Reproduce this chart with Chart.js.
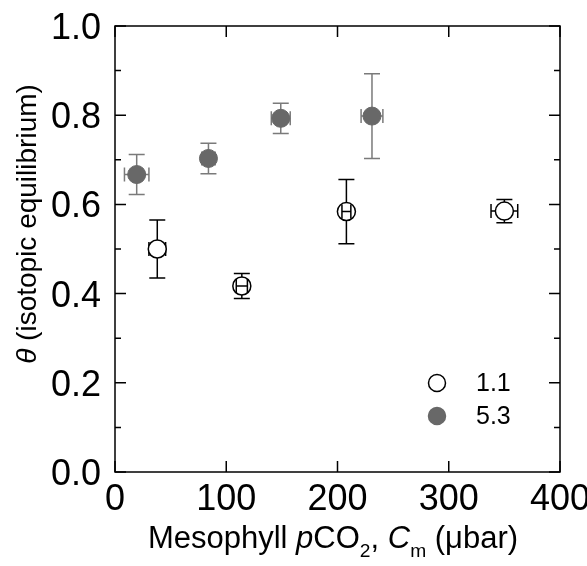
<!DOCTYPE html>
<html><head><meta charset="utf-8">
<script src="https://cdn.jsdelivr.net/npm/chart.js@4.4.0/dist/chart.umd.min.js"></script>
<style>html,body{margin:0;padding:0;background:#fff;}canvas{display:block;}</style>
</head><body>
<canvas id="c" width="587" height="566"></canvas>
<script>
// ---- data ----
const seriesNames = ['1.1', '5.3'];
const openX    = [38, 114, 208, 350];
const openY    = [0.500, 0.417, 0.584, 0.585];
const openXErr = [7.5, 5, 4, 12];
const openYErr = [0.065, 0.028, 0.072, 0.026];
const fillX    = [19.5, 84, 149, 231];
const fillY    = [0.667, 0.703, 0.793, 0.798];
const fillXErr = [11, 6, 8.5, 9.8];
const fillYErr = [0.045, 0.034, 0.034, 0.095];
const xTicks = [0, 100, 200, 300, 400];
const xTickLabels = ['0', '100', '200', '300', '400'];
const yTicks = [0.0, 0.2, 0.4, 0.6, 0.8, 1.0];
const yTickLabels = ['0.0', '0.2', '0.4', '0.6', '0.8', '1.0'];
const yMinorTicks = [0.1, 0.3, 0.5, 0.7, 0.9];

const FONT = '"Liberation Sans", Arial, Helvetica, sans-serif';
const GREY = '#686868';
const GREY_ERR = '#7a7a7a';
const R = 9;

function pts(xs, ys) { return xs.map((x, i) => ({x: x, y: ys[i]})); }

function drawErr(ctx, xs, ys, xe, ye, sx, sy, color, doY, doX, onlyInner) {
  ctx.save();
  ctx.strokeStyle = color; ctx.lineWidth = 1.5;
  for (let i = 0; i < xs.length; i++) {
    const px = sx.getPixelForValue(xs[i]), py = sy.getPixelForValue(ys[i]);
    const l = sx.getPixelForValue(xs[i] - xe[i]), r = sx.getPixelForValue(xs[i] + xe[i]);
    if (onlyInner && (r - px) > R - 2) continue;
    ctx.beginPath();
    if (doY) {
      const t = sy.getPixelForValue(ys[i] + ye[i]), b = sy.getPixelForValue(ys[i] - ye[i]);
      ctx.moveTo(px, t); ctx.lineTo(px, b);
      ctx.moveTo(px - 8, t); ctx.lineTo(px + 8, t);
      ctx.moveTo(px - 8, b); ctx.lineTo(px + 8, b);
    }
    if (doX) {
      ctx.moveTo(l, py); ctx.lineTo(r, py);
      ctx.moveTo(l, py - 7); ctx.lineTo(l, py + 7);
      ctx.moveTo(r, py - 7); ctx.lineTo(r, py + 7);
    }
    ctx.stroke();
  }
  ctx.restore();
}

function drawRich(ctx, segs, size, cx, baseline, align) {
  let w = 0;
  segs.forEach(s => {
    const fs = s.sub ? size * 0.62 : size;
    ctx.font = (s.it ? 'italic ' : '') + fs + 'px ' + FONT;
    s.w = ctx.measureText(s.t).width; s.fs = fs; w += s.w;
  });
  let x = align === 'center' ? cx - w / 2 : cx;
  segs.forEach(s => {
    ctx.font = (s.it ? 'italic ' : '') + s.fs + 'px ' + FONT;
    ctx.fillText(s.t, x, baseline + (s.sub ? size * 0.28 : 0));
    x += s.w;
  });
}

const axesPlugin = {
  id: 'axesPlugin',
  beforeDatasetsDraw(chart) {
    const ctx = chart.ctx, sx = chart.scales.x, sy = chart.scales.y;
    drawErr(ctx, fillX, fillY, fillXErr, fillYErr, sx, sy, GREY_ERR, true, true, false);
    drawErr(ctx, openX, openY, openXErr, openYErr, sx, sy, '#000', true, true, false);
  },
  afterDatasetsDraw(chart) {
    const ctx = chart.ctx, sx = chart.scales.x, sy = chart.scales.y;
    const a = chart.chartArea;
    drawErr(ctx, openX, openY, openXErr, openYErr, sx, sy, '#000', false, true, true);
    ctx.save();
    ctx.strokeStyle = '#000'; ctx.lineWidth = 1.5;
    ctx.strokeRect(a.left, a.top, a.right - a.left, a.bottom - a.top);
    ctx.beginPath();
    xTicks.forEach(v => {
      const p = sx.getPixelForValue(v);
      ctx.moveTo(p, a.bottom); ctx.lineTo(p, a.bottom - 11);
      ctx.moveTo(p, a.top); ctx.lineTo(p, a.top + 11);
    });
    yTicks.forEach(v => {
      const p = sy.getPixelForValue(v);
      ctx.moveTo(a.left, p); ctx.lineTo(a.left + 11, p);
      ctx.moveTo(a.right, p); ctx.lineTo(a.right - 11, p);
    });
    yMinorTicks.forEach(v => {
      const p = sy.getPixelForValue(v);
      ctx.moveTo(a.left, p); ctx.lineTo(a.left + 6, p);
      ctx.moveTo(a.right, p); ctx.lineTo(a.right - 6, p);
    });
    ctx.stroke();

    ctx.fillStyle = '#000';
    ctx.font = '36px ' + FONT;
    ctx.textAlign = 'center'; ctx.textBaseline = 'alphabetic';
    xTicks.forEach((v, i) => ctx.fillText(xTickLabels[i], sx.getPixelForValue(v), a.bottom + 38));
    ctx.textAlign = 'right';
    yTicks.forEach((v, i) => ctx.fillText(yTickLabels[i], a.left - 14, sy.getPixelForValue(v) + 13));

    ctx.textAlign = 'left';
    drawRich(ctx, [{t: 'Mesophyll '}, {t: 'p', it: true}, {t: 'CO'}, {t: '2', sub: true}, {t: ', '},
                   {t: 'C', it: true}, {t: 'm', sub: true}, {t: ' (\u03bcbar)'}], 31, 333, 548, 'center');
    ctx.save();
    ctx.translate(36, 224); ctx.rotate(-Math.PI / 2);
    drawRich(ctx, [{t: '\u03b8', it: true}, {t: ' (isotopic equilibrium)'}], 28, 0, 0, 'center');
    ctx.restore();

    // legend
    const rows = [{y: 383, fill: '#fff', stroke: '#000'}, {y: 416, fill: GREY, stroke: GREY}];
    rows.forEach((r, i) => {
      ctx.beginPath(); ctx.arc(437, r.y, 8.5, 0, Math.PI * 2);
      ctx.fillStyle = r.fill; ctx.fill();
      ctx.lineWidth = 1.5; ctx.strokeStyle = r.stroke; ctx.stroke();
      ctx.fillStyle = '#000'; ctx.font = '25px ' + FONT; ctx.textAlign = 'left';
      ctx.fillText(seriesNames[i], 476, r.y + 8);
    });
    ctx.restore();
  }
};

new Chart(document.getElementById('c'), {
  type: 'scatter',
  data: {
    datasets: [
      {label: seriesNames[0], data: pts(openX, openY), pointRadius: R, pointHoverRadius: R,
       pointBackgroundColor: '#fff', pointBorderColor: '#000', pointBorderWidth: 1.5, showLine: false},
      {label: seriesNames[1], data: pts(fillX, fillY), pointRadius: R, pointHoverRadius: R,
       pointBackgroundColor: GREY, pointBorderColor: GREY, pointBorderWidth: 1, showLine: false}
    ]
  },
  options: {
    responsive: false, animation: false, devicePixelRatio: 1,
    layout: {padding: {left: 115, right: 27, top: 26, bottom: 94}},
    plugins: {legend: {display: false}, tooltip: {enabled: false}},
    scales: {
      x: {type: 'linear', min: 0, max: 400, display: false},
      y: {type: 'linear', min: 0, max: 1, display: false}
    }
  },
  plugins: [axesPlugin]
});
</script>
</body></html>
